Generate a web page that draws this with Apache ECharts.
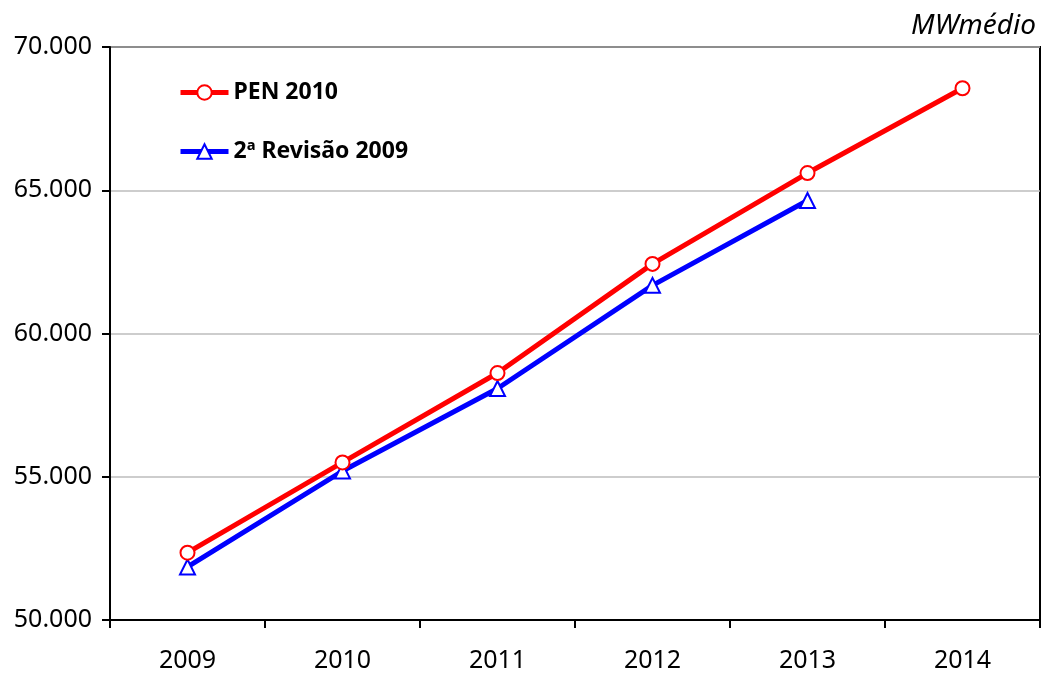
<!DOCTYPE html>
<html><head><meta charset="utf-8">
<script src="https://cdn.jsdelivr.net/npm/echarts@6/dist/echarts.min.js"></script>
<style>html,body{margin:0;padding:0;background:#fff}#c{width:1043px;height:675px}</style>
</head><body><div id="c"></div>
<script>
const categories = ['2009','2010','2011','2012','2013','2014'];
const pen2010 = [52350, 55500, 58620, 62430, 65600, 68560];
const revisao2009 = [51850, 55200, 58080, 61680, 64640, null];
const unitLabel = 'MWmédio';

const chart = echarts.init(document.getElementById('c'));
const F = '"Noto Sans", sans-serif';
chart.setOption({
  animation: false,
  backgroundColor: '#fff',
  title: {
    text: unitLabel, right: 2, top: 7,
    textStyle: {fontFamily: F, fontStyle: 'italic', fontWeight: 'normal', fontSize: 28, color: '#000'}
  },
  legend: {
    orient: 'vertical', left: 173, top: 76, itemGap: 36,
    itemWidth: 48, itemHeight: 18,
    lineStyle: {width: 5},
    textStyle: {fontFamily: F, fontWeight: 'bold', fontSize: 23, color: '#000'},
    data: ['PEN 2010', '2ª Revisão 2009']
  },
  grid: {left: 110, right: 3, top: 47, bottom: 55, show: true, borderColor: '#000', borderWidth: 2, containLabel: false},
  xAxis: {
    type: 'category', data: categories, boundaryGap: true,
    axisLine: {lineStyle: {color: '#000', width: 2}},
    axisTick: {show: true, length: 8, lineStyle: {color: '#000', width: 2}},
    axisLabel: {fontFamily: F, fontSize: 25, color: '#000', margin: 28},
    splitLine: {show: false}
  },
  yAxis: {
    type: 'value', min: 50000, max: 70000, interval: 5000,
    axisLine: {show: true, lineStyle: {color: '#000', width: 2}},
    axisTick: {show: true, length: 8, lineStyle: {color: '#000', width: 2}},
    axisLabel: {fontFamily: F, fontSize: 25, color: '#000', margin: 18,
      formatter: v => (v/1000).toFixed(3)},
    splitLine: {show: true, lineStyle: {color: '#bdbdbd', width: 1.5}}
  },
  series: [
    {name: 'PEN 2010', type: 'line', data: pen2010, symbol: 'circle', symbolSize: 14,
     lineStyle: {color: '#ff0000', width: 5}, itemStyle: {color: '#fff', borderColor: '#ff0000', borderWidth: 2},
     z: 3},
    {name: '2ª Revisão 2009', type: 'line', data: revisao2009, symbol: 'triangle', symbolSize: 15,
     lineStyle: {color: '#0000ff', width: 5}, itemStyle: {color: '#fff', borderColor: '#0000ff', borderWidth: 2},
     z: 2}
  ]
});
</script></body></html>
